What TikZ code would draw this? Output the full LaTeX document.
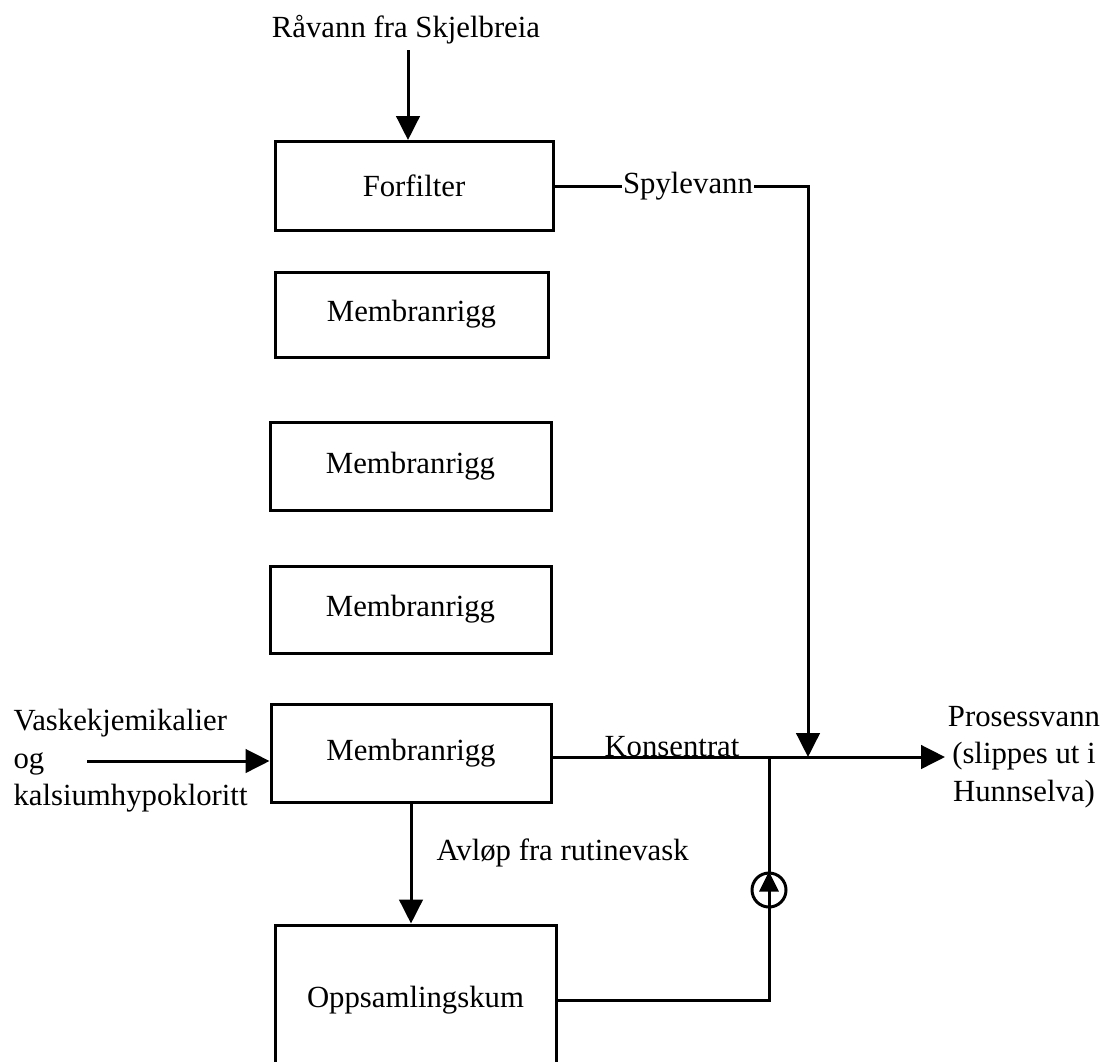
\documentclass[tikz,border=0pt]{standalone}
\usepackage{fontspec}
\setmainfont{Liberation Serif}
\usetikzlibrary{arrows.meta}

\begin{document}
\begin{tikzpicture}[x=0.4pt,y=-0.4pt,line width=1.2pt,
    every node/.style={font=\fontsize{12.3}{15}\selectfont},
    unit/.style={draw,rectangle,inner sep=0pt},
    lbl/.style={inner sep=0pt},
    tip/.style={-{Triangle[width=9.4pt,length=9.6pt]}}]
    \useasboundingbox (0,0) rectangle (1105,1061);
    % boxes
    \node[unit,minimum width=111.2pt,minimum height=35.6pt] (ff) at (414,186) {Forfilter};
    \node[unit,minimum width=109.2pt,minimum height=34pt] (m1) at (411.5,314.5) {Membranrigg};
    \node[unit,minimum width=112.4pt,minimum height=35.2pt] (m2) at (410.5,466) {Membranrigg};
    \node[unit,minimum width=112.4pt,minimum height=34.8pt] (m3) at (410.5,609.5) {Membranrigg};
    \node[unit,minimum width=112pt,minimum height=39.2pt] (m4) at (411,753) {Membranrigg};
    \node[unit,minimum width=112.4pt,minimum height=60pt] (os) at (415.5,1000) {Oppsamlingskum};
    \node[draw,circle,inner sep=0pt,minimum size=13.6pt] (pump) at (769,890) {};
    % labels
    \node[lbl] (raa) at (406,30) {Råvann fra Skjelbreia};
    \node[lbl] (spyl) at (688,186) {Spylevann};
    \node[lbl,anchor=base west] (kons) at (603,756) {Konsentrat};
    \node[lbl,anchor=west] (avl) at (435,853) {Avløp fra rutinevask};
    \node[lbl,align=left,anchor=west] (vask) at (12,761) {Vaskekjemikalier\\og\\kalsiumhypokloritt};
    \node[lbl,align=center] (pv) at (1024,757) {Prosessvann\\(slippes ut i\\Hunnselva)};
    \coordinate (inn) at (87,761);
    \coordinate (ut) at (945,757);
    \coordinate (sp) at (808,757);
    \coordinate (kn) at (769,757);
    % flows
    \draw[tip] (408,50) -- (ff.north -| 408,0);
    \draw (ff.east) -- (ff.east -| spyl.west);
    \draw[tip] (spyl.east |- ff.east) -| (sp);
    \draw[tip] (inn) -- (inn -| m4.west);
    \draw[tip] (m4.east |- ut) -- (ut);
    \draw[tip] (m4.south -| 411,0) -- (os.north -| 411,0);
    \draw (os.east) -| (pump.south);
    \draw[-{Triangle[width=7.6pt,length=8pt]}] (pump.south) -- (pump.north);
    \draw (pump.north) -- (kn);
\end{tikzpicture}
\end{document}
